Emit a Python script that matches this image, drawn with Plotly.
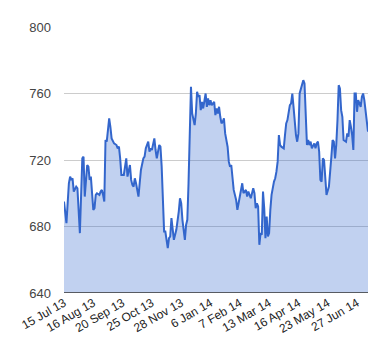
import plotly.graph_objects as go

# trading-day index (0 = 15 Jul 13) and closing value
day_index = [0, 2, 4, 5, 6, 7, 8, 10, 11, 12, 13, 15, 16, 17, 19, 20, 21, 22, 24, 25,
             26, 27, 29, 30, 31, 32, 33, 34, 35, 36, 37, 38, 39, 41, 43, 44, 45, 46, 47, 49,
             50, 51, 52, 54, 55, 56, 57, 58, 59, 61, 62, 63, 65, 66, 67, 69, 70, 71, 72, 73,
             74, 75, 76, 78, 79, 80, 81, 82, 83, 84, 85, 86, 87, 88, 89, 90, 92, 93, 94, 95,
             96, 97, 99, 100, 101, 102, 103, 104, 105, 107, 108, 109, 110, 111, 112, 113, 114, 115, 116, 117,
             118, 119, 120, 121, 123, 124, 125, 126, 127, 128, 129, 130, 131, 132, 134, 135, 136, 137, 138, 139,
             141, 142, 143, 145, 146, 147, 149, 150, 151, 152, 153, 155, 156, 157, 158, 159, 160, 161, 162, 163,
             164, 165, 166, 167, 168, 169, 170, 172, 173, 174, 175, 176, 177, 178, 180, 181, 182, 183, 184, 185,
             186, 187, 188, 189, 190, 191, 192, 193, 195, 196, 197, 198, 199, 200, 201, 202, 203, 205, 206, 207,
             208, 209, 210, 211, 212, 213, 214, 215, 217, 218, 219, 220, 221, 222, 223, 224, 225, 226, 227, 228,
             229, 231, 232, 233, 234, 235, 236, 237, 238, 239, 240, 241, 243, 244, 245, 246, 247, 248, 249]
price = [695, 682, 706, 710, 708, 709, 701, 704, 703, 692, 676, 721, 722, 698, 717, 716, 708, 710, 690, 691,
         699, 700, 699, 701, 702, 699, 695, 732, 731, 738, 745, 740, 733, 730, 729, 727, 728, 721, 711, 711,
         716, 721, 710, 717, 708, 705, 704, 709, 706, 698, 706, 714, 721, 722, 727, 731, 725, 727, 726, 730,
         733, 726, 721, 729, 728, 716, 696, 677, 677, 672, 667, 673, 674, 685, 678, 672, 678, 683, 689, 697,
         694, 684, 672, 681, 684, 706, 738, 764, 748, 741, 748, 761, 758, 759, 750, 755, 751, 756, 760, 752,
         757, 753, 756, 753, 755, 747, 751, 748, 752, 746, 742, 743, 745, 736, 728, 719, 716, 717, 710, 702,
         696, 690, 694, 703, 706, 700, 702, 698, 701, 699, 697, 703, 700, 691, 694, 692, 669, 676, 675, 701,
         691, 673, 686, 674, 676, 690, 699, 707, 709, 713, 719, 735, 729, 728, 727, 735, 742, 744, 748, 753,
         754, 760, 752, 742, 735, 731, 736, 760, 766, 768, 766, 748, 729, 732, 729, 731, 727, 730, 727, 730,
         731, 725, 708, 707, 721, 720, 709, 699, 704, 711, 722, 732, 731, 721, 729, 744, 765, 763, 750, 746,
         732, 731, 736, 734, 744, 740, 735, 726, 760, 760, 749, 756, 752, 758, 760, 756, 749, 745, 737]

tick_positions = [0, 24, 48, 72, 96, 120, 144, 168, 192, 216, 240]
tick_labels = ["15 Jul 13", "16 Aug 13", "20 Sep 13", "25 Oct 13", "28 Nov 13", "6 Jan 14",
               "7 Feb 14", "13 Mar 14", "16 Apr 14", "23 May 14", "27 Jun 14"]
y_ticks = [640, 680, 720, 760, 800]

fig = go.Figure()
fig.add_trace(go.Scatter(
    x=day_index, y=price, mode="lines",
    line=dict(color="#3366cc", width=2),
    fill="tozeroy", fillcolor="rgba(51,102,204,0.3)",
    hoverinfo="x+y", showlegend=False,
))

font_family = "Arial, Liberation Sans, sans-serif"
fig.update_layout(
    width=380, height=360,
    margin=dict(l=64, r=12, t=27, b=67, autoexpand=False),
    paper_bgcolor="white", plot_bgcolor="white",
    font=dict(family=font_family, size=13, color="#444"),
    xaxis=dict(
        range=[0, 249], tickmode="array", tickvals=tick_positions, ticktext=tick_labels,
        tickangle=-30, showgrid=False, zeroline=False, showline=False, automargin=False,
        ticks="", tickfont=dict(size=12, color="#222"),
    ),
    yaxis=dict(
        range=[640, 800], tickmode="array", tickvals=y_ticks, automargin=False,
        showgrid=True, gridcolor="#cccccc", gridwidth=1, zeroline=False,
        showline=False, ticks="", ticklabelstandoff=12,
        tickfont=dict(size=13, color="#444"),
    ),
)
fig.add_hline(y=640, line=dict(color="#333333", width=1.5), layer="above")

fig.write_html("out.html", config={"displayModeBar": False},
               post_script="document.body.style.margin='0';")
